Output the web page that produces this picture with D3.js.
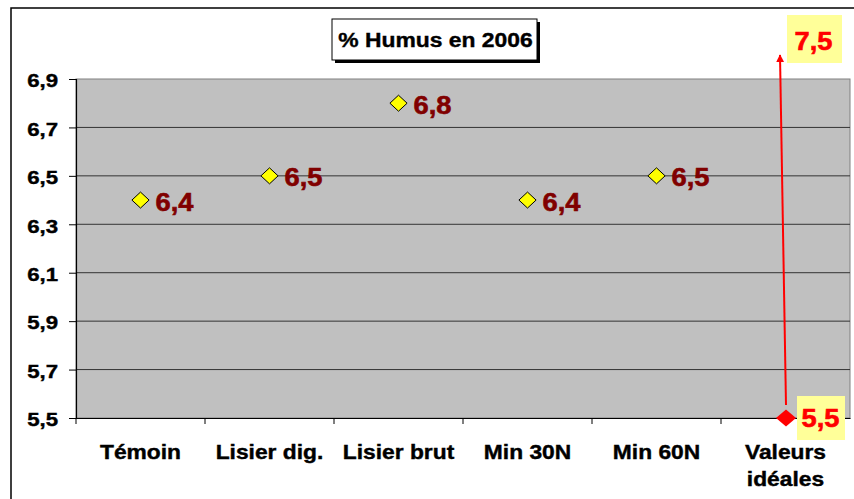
<!DOCTYPE html>
<html><head><meta charset="utf-8">
<script src="https://cdn.jsdelivr.net/npm/d3@7/dist/d3.min.js"></script>
<style>html,body{margin:0;padding:0;background:#fff;}svg{display:block;font-family:Arial,"Liberation Sans",sans-serif;}</style>
</head><body>
<script>
const categories = ["Témoin","Lisier dig.","Lisier brut","Min 30N","Min 60N","Valeurs idéales"];
const values = [6.4, 6.5, 6.8, 6.4, 6.5];
const idealLow = 5.5;
const idealHigh = 7.5;
const yTicks = [5.5, 5.7, 5.9, 6.1, 6.3, 6.5, 6.7, 6.9];
const title = "% Humus en 2006";

const W = 854, H = 499;
const m = {left: 76, right: 4, top: 79, bottom: 81};
const svg = d3.select("body").append("svg").attr("width", W).attr("height", H);

// stretched text helper
function stext(g, x0, y0, str, size, sx, fill, anchor, sw) {
  return g.append("text")
    .attr("transform", `translate(${x0},${y0}) scale(${sx},1)`)
    .attr("text-anchor", anchor || "start")
    .attr("font-size", size).attr("font-weight", "bold").attr("fill", fill)
    .attr("stroke", fill).attr("stroke-width", sw || 0.4).text(str);
}

// outer frame
svg.append("rect").attr("x", 11).attr("y", 8).attr("width", W + 10).attr("height", H + 10)
  .attr("fill", "none").attr("stroke", "#000").attr("stroke-width", 1.5);

const x = d3.scaleBand().domain(categories).range([m.left, W - m.right]).padding(0);
const y = d3.scaleLinear().domain([5.5, 6.9]).range([H - m.bottom, m.top]);
const fmt = v => d3.format(".1f")(v).replace(".", ",");

// plot background
svg.append("rect").attr("x", m.left).attr("y", m.top)
  .attr("width", W - m.right - m.left).attr("height", y(5.5) - m.top)
  .attr("fill", "#C0C0C0").attr("stroke", "#808080").attr("stroke-width", 1);

// gridlines
svg.append("g").selectAll("line").data(yTicks.filter(t => t > 5.5 && t < 6.9)).join("line")
  .attr("x1", m.left).attr("x2", W - m.right).attr("y1", d => y(d)).attr("y2", d => y(d))
  .attr("stroke", "#333").attr("stroke-width", 1);

// y axis
const yAxis = svg.append("g").attr("transform", `translate(${m.left},0)`)
  .call(d3.axisLeft(y).tickValues(yTicks).tickFormat("").tickSize(7));
yAxis.select(".domain").attr("stroke", "#000").attr("stroke-width", 1.2);
yAxis.selectAll("line").attr("stroke", "#000");
const yl = svg.append("g");
yTicks.forEach(t => stext(yl, m.left - 18, y(t) + 8.3, fmt(t), 19, 1.17, "#000", "end"));

// x axis
const xAxis = svg.append("g").attr("transform", `translate(0,${y(5.5)})`)
  .call(d3.axisBottom(x).tickSize(0).tickFormat(""));
xAxis.select(".domain").attr("stroke", "#000").attr("stroke-width", 1.2);
svg.append("g").selectAll("line").data(categories.slice(0, -1)).join("line")
  .attr("x1", d => x(d) + x.bandwidth()).attr("x2", d => x(d) + x.bandwidth())
  .attr("y1", y(5.5)).attr("y2", y(5.5) + 6).attr("stroke", "#000");
svg.append("line").attr("x1", m.left).attr("x2", m.left).attr("y1", y(5.5)).attr("y2", y(5.5) + 6).attr("stroke", "#000");

// x labels
const xl = svg.append("g");
categories.forEach(c => {
  const parts = c === "Valeurs idéales" ? ["Valeurs", "idéales"] : [c];
  parts.forEach((p, i) => stext(xl, x(c) + x.bandwidth() / 2, y(5.5) + 40.5 + i * 27, p, 20, 1.14, "#000", "middle"));
});

// title
const tb = {x: 332, y: 19, w: 205, h: 41};
svg.append("rect").attr("x", tb.x + 3).attr("y", tb.y + 3).attr("width", tb.w).attr("height", tb.h).attr("fill", "#000");
svg.append("rect").attr("x", tb.x).attr("y", tb.y).attr("width", tb.w).attr("height", tb.h)
  .attr("fill", "#fff").attr("stroke", "#000").attr("stroke-width", 1);
stext(svg, tb.x + tb.w / 2 + 1, tb.y + 28, title, 21, 1.09, "#000", "middle");

// data points
const dia = (hw, hh) => `M0,${-hh}L${hw},0L0,${hh}L${-hw},0Z`;
const pts = categories.slice(0, values.length).map((c, i) => ({c, v: values[i]}));
svg.append("g").selectAll("path").data(pts).join("path")
  .attr("d", dia(8.6, 8))
  .attr("transform", d => `translate(${x(d.c) + x.bandwidth() / 2},${y(d.v)})`)
  .attr("fill", "#FFFF00").attr("stroke", "#000").attr("stroke-width", 1);
const dl = svg.append("g");
pts.forEach(d => stext(dl, x(d.c) + x.bandwidth() / 2 + 15, y(d.v) + 10.5, fmt(d.v), 26, 1.05, "#800000", "start", 0.6));

// ideal values
const cx = x("Valeurs idéales") + x.bandwidth() / 2 + 0.5;
svg.append("defs").append("marker").attr("id", "ah").attr("viewBox", "0 0 10 10")
  .attr("refX", 9).attr("refY", 5).attr("markerWidth", 4).attr("markerHeight", 4.5)
  .attr("orient", "auto").append("path").attr("d", "M0,0L10,5L0,10Z").attr("fill", "#FF0000");
svg.append("line").attr("x1", cx).attr("y1", y(idealLow) - 13).attr("x2", cx - 6).attr("y2", m.top - 24)
  .attr("stroke", "#FF0000").attr("stroke-width", 2).attr("marker-end", "url(#ah)");
svg.append("path").attr("d", dia(10, 8.5))
  .attr("transform", `translate(${cx},${y(idealLow)})`).attr("fill", "#FF0000");
// low label
svg.append("rect").attr("x", cx + 11).attr("y", y(idealLow) - 22).attr("width", 48).attr("height", 44).attr("fill", "#FFFF99");
stext(svg, cx + 34.5, y(idealLow) + 9.3, fmt(idealLow), 26, 1.05, "#FF0000", "middle", 0.6);
// high label
svg.append("rect").attr("x", cx + 1).attr("y", 15).attr("width", 55).attr("height", 48).attr("fill", "#FFFF99");
stext(svg, cx + 27.5, 50, fmt(idealHigh), 26, 1.05, "#FF0000", "middle", 0.6);
</script>
</body></html>
